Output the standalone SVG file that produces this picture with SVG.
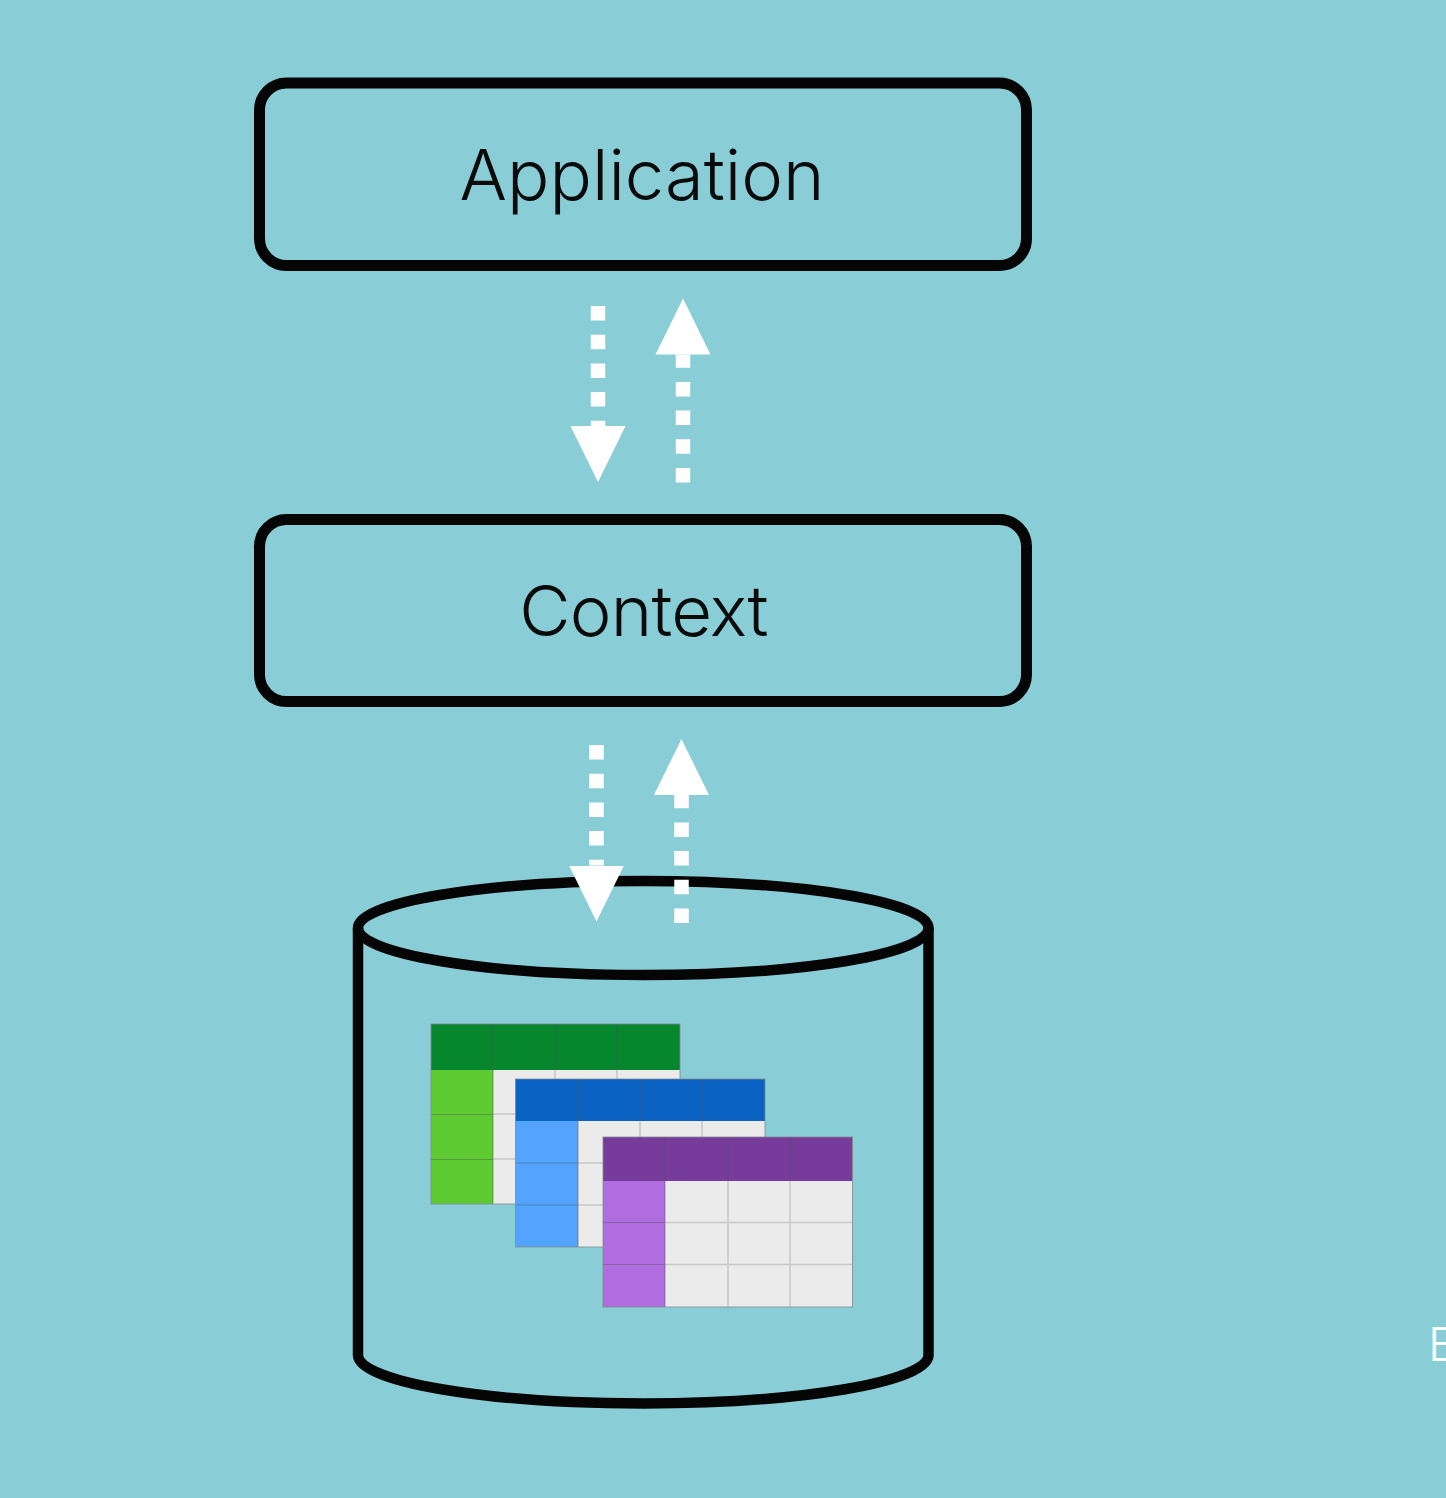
<svg xmlns="http://www.w3.org/2000/svg" width="1446" height="1498" viewBox="0 0 1446 1498">
<style>
.box{fill:none;stroke:#050505;stroke-width:11}
.cyl{fill:none;stroke:#050505;stroke-width:10.5}
.label{font-family:Inter,"Liberation Sans",sans-serif;font-weight:300;font-size:70.500px;fill:#0a0a0a;text-anchor:middle}
.flow{stroke:#fff;stroke-width:14.5;fill:none;stroke-dasharray:14.5 14.2;marker-end:url(#head)}
.tbl{stroke:#7d8a8a;stroke-width:1;fill:none;stroke-opacity:.8}
.hdiv{stroke:#555;stroke-width:1.2;fill:none;stroke-opacity:.45}
.grid{stroke:#c8c8c8;stroke-width:1.5;fill:none}
.cell{fill:#ebebeb}
</style>
<defs>
<marker id="head" markerUnits="userSpaceOnUse" markerWidth="56" markerHeight="56" viewBox="0 0 56 56" refX="0" refY="28" orient="auto">
<path d="M0 .5L56 28L0 55.500Z" fill="#fff"/>
</marker>
</defs>
<rect width="1446" height="1498" fill="#89ced7"/>
<g id="application">
<rect class="box" x="259.500" y="83" width="767" height="182.500" rx="27"/>
<text class="label" x="642" y="200">Application</text>
</g>
<g id="context">
<rect class="box" x="259.500" y="519.500" width="767" height="182" rx="27"/>
<text class="label" x="643.500" y="636" letter-spacing="-.8">Context</text>
</g>
<g id="database">
<path class="cyl" d="M358 928V1355A285.250 48.500 0 0 0 928.500 1355V928"/>
<ellipse class="cyl" cx="643.250" cy="928" rx="285.250" ry="47"/>
<g id="table-green">
<rect class="cell" x="431" y="1024" width="249" height="180"/>
<rect fill="#06872d" x="431" y="1024" width="249" height="46"/>
<rect fill="#5ecb33" x="431" y="1070" width="62" height="134"/>
<path class="grid" d="M555 1070V1204M617 1070V1204M493 1114H680M493 1159H680"/>
<path class="hdiv" d="M493 1024V1204M555 1024V1070M617 1024V1070M431 1114.500H493M431 1159.500H493"/>
<rect class="tbl" x="431" y="1024" width="249" height="180"/>
</g>
<g id="table-blue">
<rect class="cell" x="515.500" y="1079" width="249.500" height="168"/>
<rect fill="#0a63c2" x="515.500" y="1079" width="249.500" height="42"/>
<rect fill="#52a4fe" x="515.500" y="1121" width="62.500" height="126"/>
<path class="grid" d="M640 1121V1247M702 1121V1247M578 1163H765M578 1205H765"/>
<path class="hdiv" d="M578 1079V1247M640 1079V1121M702 1079V1121M515.500 1163H578M515.500 1205H578"/>
<rect class="tbl" x="515.500" y="1079" width="249.500" height="168"/>
</g>
<g id="table-purple">
<rect class="cell" x="603" y="1137" width="249.500" height="170"/>
<rect fill="#773b9b" x="603" y="1137" width="249.500" height="44"/>
<rect fill="#b06de0" x="603" y="1181" width="62" height="126"/>
<path class="grid" d="M728 1181V1307M790 1181V1307M665 1222.500H852.500M665 1264.500H852.500"/>
<path class="hdiv" d="M665 1137V1307M728 1137V1181M790 1137V1181M603 1222.500H665M603 1264.500H665"/>
<rect class="tbl" x="603" y="1137" width="249.500" height="170"/>
</g>
</g>
<g id="connectors">
<path class="flow" d="M598 306V426"/>
<path class="flow" d="M683 482.500V354.500"/>
<path class="flow" d="M596.500 745V865.500"/>
<path class="flow" d="M681.500 923V795"/>
</g>
<text x="1428" y="1361" font-family="Inter,'Liberation Sans',sans-serif" font-weight="300" font-size="47" fill="#fff">E</text>
</svg>
